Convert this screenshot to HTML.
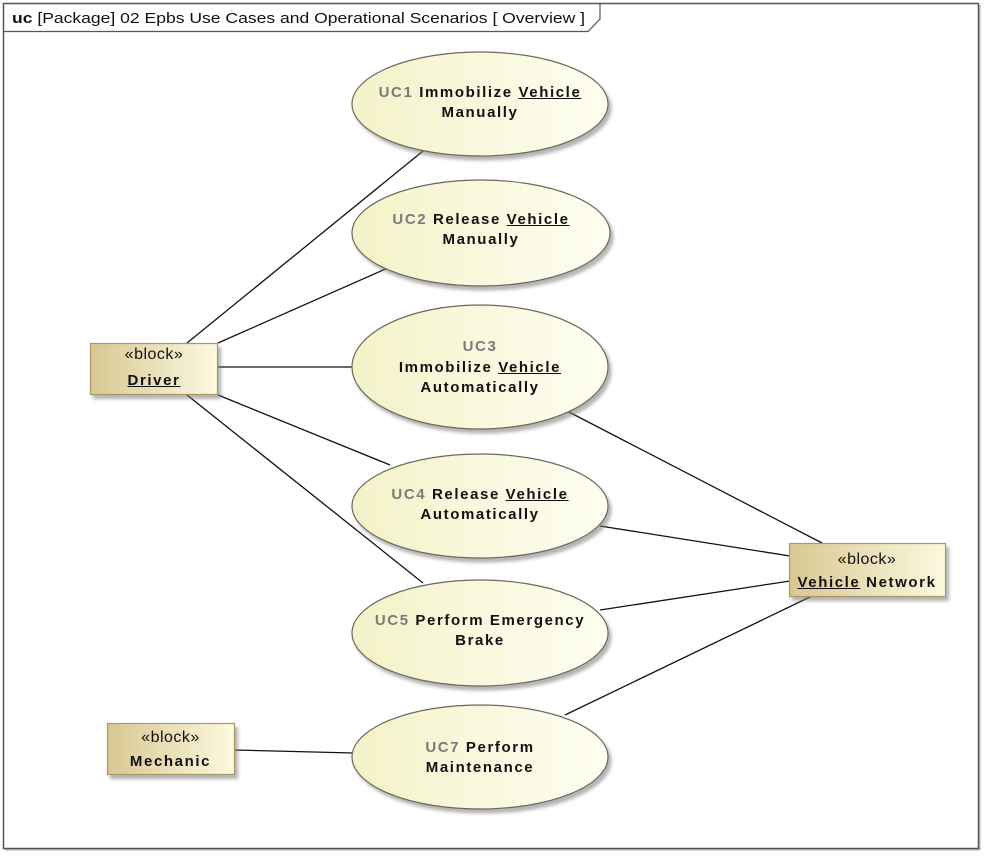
<!DOCTYPE html>
<html><head><meta charset="utf-8">
<style>
html,body{margin:0;padding:0;background:#fff;}
#wrap{position:relative;width:986px;height:856px;overflow:hidden;background:#fff;font-family:"Liberation Sans",Arial,sans-serif;}
svg{position:absolute;left:0;top:0;}
.t{position:absolute;text-align:center;font-weight:bold;font-size:15px;letter-spacing:1.6px;color:#111;white-space:nowrap;}
.g{color:#7a7a7a;}
.u{text-decoration:underline;}
.st{font-weight:normal;font-size:16px;letter-spacing:0.5px;}
</style></head><body>
<div id="wrap">
<svg width="986" height="856" viewBox="0 0 986 856">
<defs>
<linearGradient id="eg" x1="0" y1="0" x2="1" y2="0">
<stop offset="0" stop-color="#f4f2c8"/>
<stop offset="1" stop-color="#fefef2"/>
</linearGradient>
<linearGradient id="bg" x1="0" y1="0" x2="1" y2="0">
<stop offset="0" stop-color="#d8c792"/>
<stop offset="1" stop-color="#fcf9e0"/>
</linearGradient>
<filter id="sh" x="-10%" y="-10%" width="130%" height="130%">
<feDropShadow dx="3" dy="4" stdDeviation="1.5" flood-color="#777" flood-opacity="0.55"/>
</filter>
</defs>
<!-- frame -->
<rect x="3.5" y="3.5" width="975" height="845" fill="none" stroke="#555" stroke-width="1.5"/>
<line x1="980" y1="5" x2="980" y2="850" stroke="#aaa" stroke-width="1"/>
<line x1="5" y1="850" x2="980" y2="850" stroke="#aaa" stroke-width="1"/>
<path d="M3.5,31.5 H588 L600,19 V3.5" fill="none" stroke="#555" stroke-width="1.2"/>
<text x="12" y="23" font-family="Liberation Sans, Arial, sans-serif" font-size="15" fill="#111" textLength="573" lengthAdjust="spacingAndGlyphs"><tspan font-weight="bold">uc</tspan> [Package] 02 Epbs Use Cases and Operational Scenarios [ Overview  ]</text>
<!-- connectors -->
<g stroke="#111" stroke-width="1.3" fill="none">
<line x1="187" y1="343" x2="423" y2="151"/>
<line x1="218" y1="343" x2="390" y2="267"/>
<line x1="218" y1="367" x2="353" y2="367"/>
<line x1="218" y1="395" x2="390" y2="465"/>
<line x1="187" y1="395" x2="423" y2="583"/>
<line x1="234" y1="750" x2="353" y2="753"/>
<line x1="567" y1="411" x2="822" y2="543"/>
<line x1="600" y1="526" x2="790" y2="556"/>
<line x1="600" y1="610" x2="790" y2="581"/>
<line x1="565" y1="715" x2="812" y2="596"/>
</g>
<!-- ellipses -->
<g fill="url(#eg)" stroke="#6a6a58" stroke-width="1.2" filter="url(#sh)">
<ellipse cx="480" cy="104" rx="128" ry="52"/>
<ellipse cx="481" cy="233" rx="129" ry="53"/>
<ellipse cx="480" cy="367" rx="128" ry="62"/>
<ellipse cx="480" cy="506" rx="128" ry="52"/>
<ellipse cx="480" cy="633" rx="128" ry="53"/>
<ellipse cx="480" cy="757" rx="128" ry="52"/>
</g>
<!-- blocks -->
<g fill="url(#bg)" stroke="#a89868" stroke-width="1.2" filter="url(#sh)">
<rect x="90.5" y="343.5" width="127" height="51"/>
<rect x="107.5" y="723.5" width="127" height="51"/>
<rect x="789.5" y="543.5" width="156" height="53"/>
</g>
</svg>

<div class="t" style="left:352px;top:83px;width:256px;line-height:20px;"><span class="g">UC1</span> Immobilize <span class="u">Vehicle</span><br>Manually</div>
<div class="t" style="left:352px;top:210px;width:258px;line-height:20px;"><span class="g">UC2</span> Release <span class="u">Vehicle</span><br>Manually</div>
<div class="t" style="left:352px;top:337px;width:256px;line-height:20.5px;"><span class="g">UC3</span><br>Immobilize <span class="u">Vehicle</span><br>Automatically</div>
<div class="t" style="left:352px;top:485px;width:256px;line-height:20px;"><span class="g">UC4</span> Release <span class="u">Vehicle</span><br>Automatically</div>
<div class="t" style="left:352px;top:611px;width:256px;line-height:19.5px;"><span class="g">UC5</span> Perform Emergency<br>Brake</div>
<div class="t" style="left:352px;top:738px;width:256px;line-height:20px;"><span class="g">UC7</span> Perform<br>Maintenance</div>

<div class="t" style="left:90px;top:342px;width:128px;line-height:26px;"><span class="st">«block»</span><br><span class="u">Driver</span></div>
<div class="t" style="left:107px;top:726px;width:127px;line-height:24px;"><span class="st">«block»</span><br>Mechanic</div>
<div class="t" style="left:789px;top:548px;width:156px;line-height:23px;"><span class="st">«block»</span><br><span class="u">Vehicle</span> Network</div>
</div>
</body></html>
